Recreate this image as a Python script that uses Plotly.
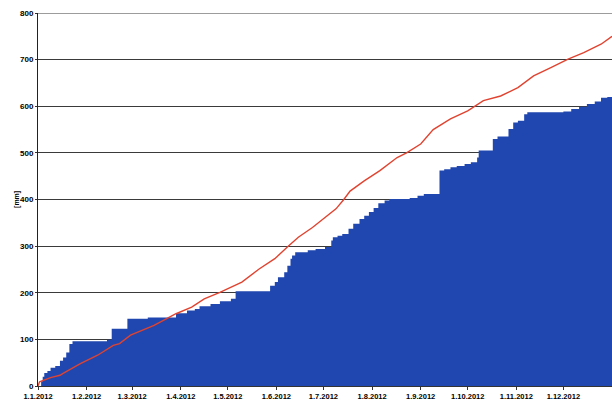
import pandas as pd
import plotly.graph_objects as go

# Cumulative precipitation 2012 (step series), day-of-year offsets and mm
precip_days = [0, 2, 3, 4, 6, 8, 11, 14, 16, 18, 20, 22, 44, 47, 57, 70, 88, 95, 100, 103,
               110, 116, 123, 126, 148, 151, 153, 157, 159, 161, 162, 164, 172, 177, 183, 187, 188, 191, 194, 198,
               201, 205, 208, 211, 214, 217, 221, 224, 237, 242, 246, 256, 259, 263, 267, 272, 276, 280, 281, 290,
               293, 300, 303, 306, 310, 312, 335, 340, 345, 350, 355, 359, 363, 366]
precip_mm = [0, 10, 20, 28, 32, 39, 43, 54, 61, 72, 90, 96, 99, 123, 144, 147, 156, 162, 165, 171,
             176, 182, 187, 203, 215, 223, 233, 244, 258, 273, 280, 287, 291, 294, 298, 312, 319, 322, 326, 337,
             348, 358, 365, 373, 382, 392, 398, 401, 403, 408, 412, 462, 465, 469, 472, 476, 480, 490, 505, 530,
             535, 551, 565, 569, 583, 587, 589, 594, 599, 605, 610, 618, 620, 622]

# Cumulative reference curve (red line)
ref_days = [0, 1, 8, 14, 16, 27, 38, 48, 52, 59, 74, 88, 98, 106, 116, 119, 130, 141, 151, 159,
            166, 175, 183, 190, 195, 199, 208, 218, 229, 235, 244, 252, 263, 274, 284, 295, 306, 316, 327, 338,
            348, 359, 366]
ref_mm = [0, 9, 18, 23, 27, 48, 66, 87, 91, 109, 130, 155, 169, 187, 201, 206, 223, 251, 273, 298,
          319, 340, 362, 380, 400, 418, 440, 462, 490, 500, 519, 550, 573, 590, 612, 622, 640, 665, 683, 701,
          715, 733, 750]

month_ticks = pd.date_range("2012-01-01", "2012-12-01", freq="MS")
month_labels = [f"{d.day}.{d.month}.{d.year}" for d in month_ticks]
y_ticks = [0, 100, 200, 300, 400, 500, 600, 700, 800]

start = pd.Timestamp("2012-01-01")
precip_x = start + pd.to_timedelta(precip_days, unit="D")
ref_x = start + pd.to_timedelta(ref_days, unit="D")

fig = go.Figure()
fig.add_trace(go.Scatter(
    x=precip_x, y=precip_mm, mode="lines", line=dict(shape="hv", width=0, color="#2047AF"),
    fill="tozeroy", fillcolor="#2047AF", hoverinfo="skip", showlegend=False))
fig.add_trace(go.Scatter(
    x=ref_x, y=ref_mm, mode="lines", line=dict(color="#E0432F", width=1.4),
    showlegend=False))

fig.update_layout(
    width=612, height=407,
    margin=dict(l=38, r=0, t=13, b=21),
    paper_bgcolor="white", plot_bgcolor="white",
    font=dict(family="Liberation Sans", color="#000000"),
    annotations=[dict(text="<b>[mm]</b>", xref="paper", yref="paper", x=-0.048, y=0.5,
                      textangle=-90, showarrow=False, font=dict(size=7, color="#000000"))],
    shapes=[dict(type="line", xref="paper", yref="y", x0=0, x1=1, y0=800, y1=800,
                 line=dict(color="#3a3a3a", width=1), layer="below")],
)
fig.update_xaxes(
    type="date", range=["2012-01-01", "2013-01-01"],
    tickvals=month_ticks, ticktext=[f"<b>{t}</b>" for t in month_labels],
    tickfont=dict(size=7.5), ticks="outside", ticklen=3, tickcolor="#333333",
    showgrid=False, showline=True, linecolor="#333333", linewidth=1, zeroline=False)
fig.update_yaxes(
    range=[0, 800], tickvals=y_ticks, ticktext=[f"<b>{v}</b>" for v in y_ticks],
    tickfont=dict(size=8), ticks="outside", ticklen=2, tickcolor="#333333",
    showgrid=True, gridcolor="#3a3a3a", gridwidth=1,
    showline=True, linecolor="#222222", linewidth=1, zeroline=False)

fig.write_html("out.html")
